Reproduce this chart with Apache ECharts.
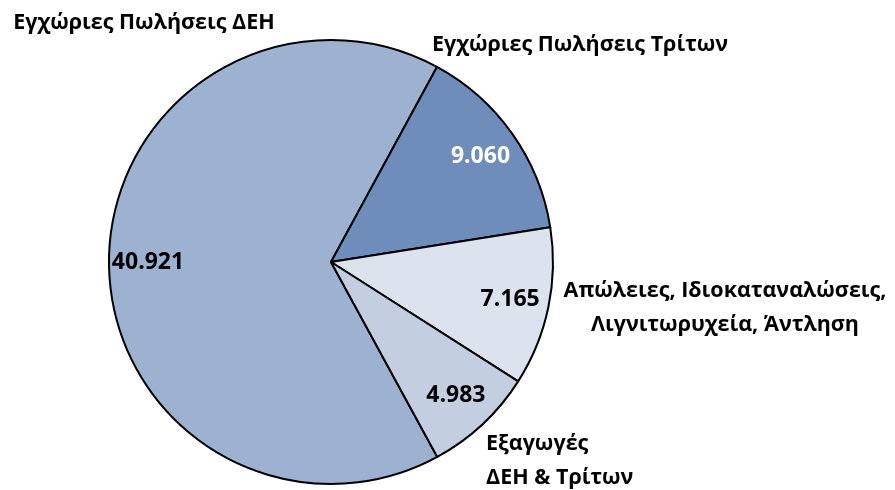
<!DOCTYPE html>
<html>
<head>
<meta charset="utf-8">
<script src="https://cdn.jsdelivr.net/npm/echarts@6/dist/echarts.min.js"></script>
<style>
  html, body { margin: 0; padding: 0; background: #fff; }
  #chart { width: 895px; height: 490px; }
</style>
</head>
<body>
<div id="chart"></div>
<script>
// values per category (clockwise, starting at ΔΕΗ)
const categories = [
  'Εγχώριες Πωλήσεις ΔΕΗ',
  'Εγχώριες Πωλήσεις Τρίτων',
  'Απώλειες, Ιδιοκαταναλώσεις,\nΛιγνιτωρυχεία, Άντληση',
  'Εξαγωγές\nΔΕΗ & Τρίτων'
];
const values = [40.921, 9.060, 7.165, 4.983];
const sliceColors = ['#9db1d0', '#6e8dba', '#dce3ef', '#c3cee1'];
const valueColors = ['#000', '#fff', '#000', '#000'];

// where each category name sits (Excel-style manual label placement)
const namePos = [
  { x: 144, y: 23, align: 'center' },
  { x: 580, y: 45, align: 'center' },
  { x: 725, y: 308, align: 'center' },
  { x: 486, y: 461, align: 'left' }
];

const fmt = v => v.toFixed(3);
const font = '"Open Sans", "Noto Sans", sans-serif';
const center = [331, 262];
const R = 222;
const startAngle = 298.6;

const chart = echarts.init(document.getElementById('chart'), null, { renderer: 'canvas' });

chart.setOption({
  animation: false,
  series: [
    {
      type: 'pie',
      center: center,
      radius: [0, R],
      startAngle: startAngle,
      clockwise: true,
      avoidLabelOverlap: false,
      silent: true,
      data: categories.map((c, i) => ({
        name: c,
        value: values[i],
        itemStyle: { color: sliceColors[i] }
      })),
      itemStyle: { borderColor: '#000', borderWidth: 2 },
      label: {
        show: true,
        position: 'outside',
        formatter: '{b}',
        fontFamily: font,
        fontWeight: 'bold',
        fontSize: 21.5,
        lineHeight: 34,
        color: '#000'
      },
      labelLine: { show: false },
      labelLayout: params => {
        const p = namePos[params.dataIndex];
        return { x: p.x, y: p.y, align: p.align, verticalAlign: 'middle' };
      }
    },
    {
      // transparent ring only used to place value labels at ~0.8 R
      type: 'pie',
      center: center,
      radius: [138, R],
      startAngle: startAngle,
      clockwise: true,
      silent: true,
      avoidLabelOverlap: false,
      data: categories.map((c, i) => ({
        name: c,
        value: values[i],
        label: { color: valueColors[i] }
      })),
      itemStyle: { color: 'rgba(0,0,0,0)', borderWidth: 0 },
      label: {
        show: true,
        position: 'inside',
        formatter: p => fmt(p.value),
        fontFamily: font,
        fontWeight: 'bold',
        fontSize: 23
      },
      labelLine: { show: false }
    }
  ]
});
</script>
</body>
</html>
